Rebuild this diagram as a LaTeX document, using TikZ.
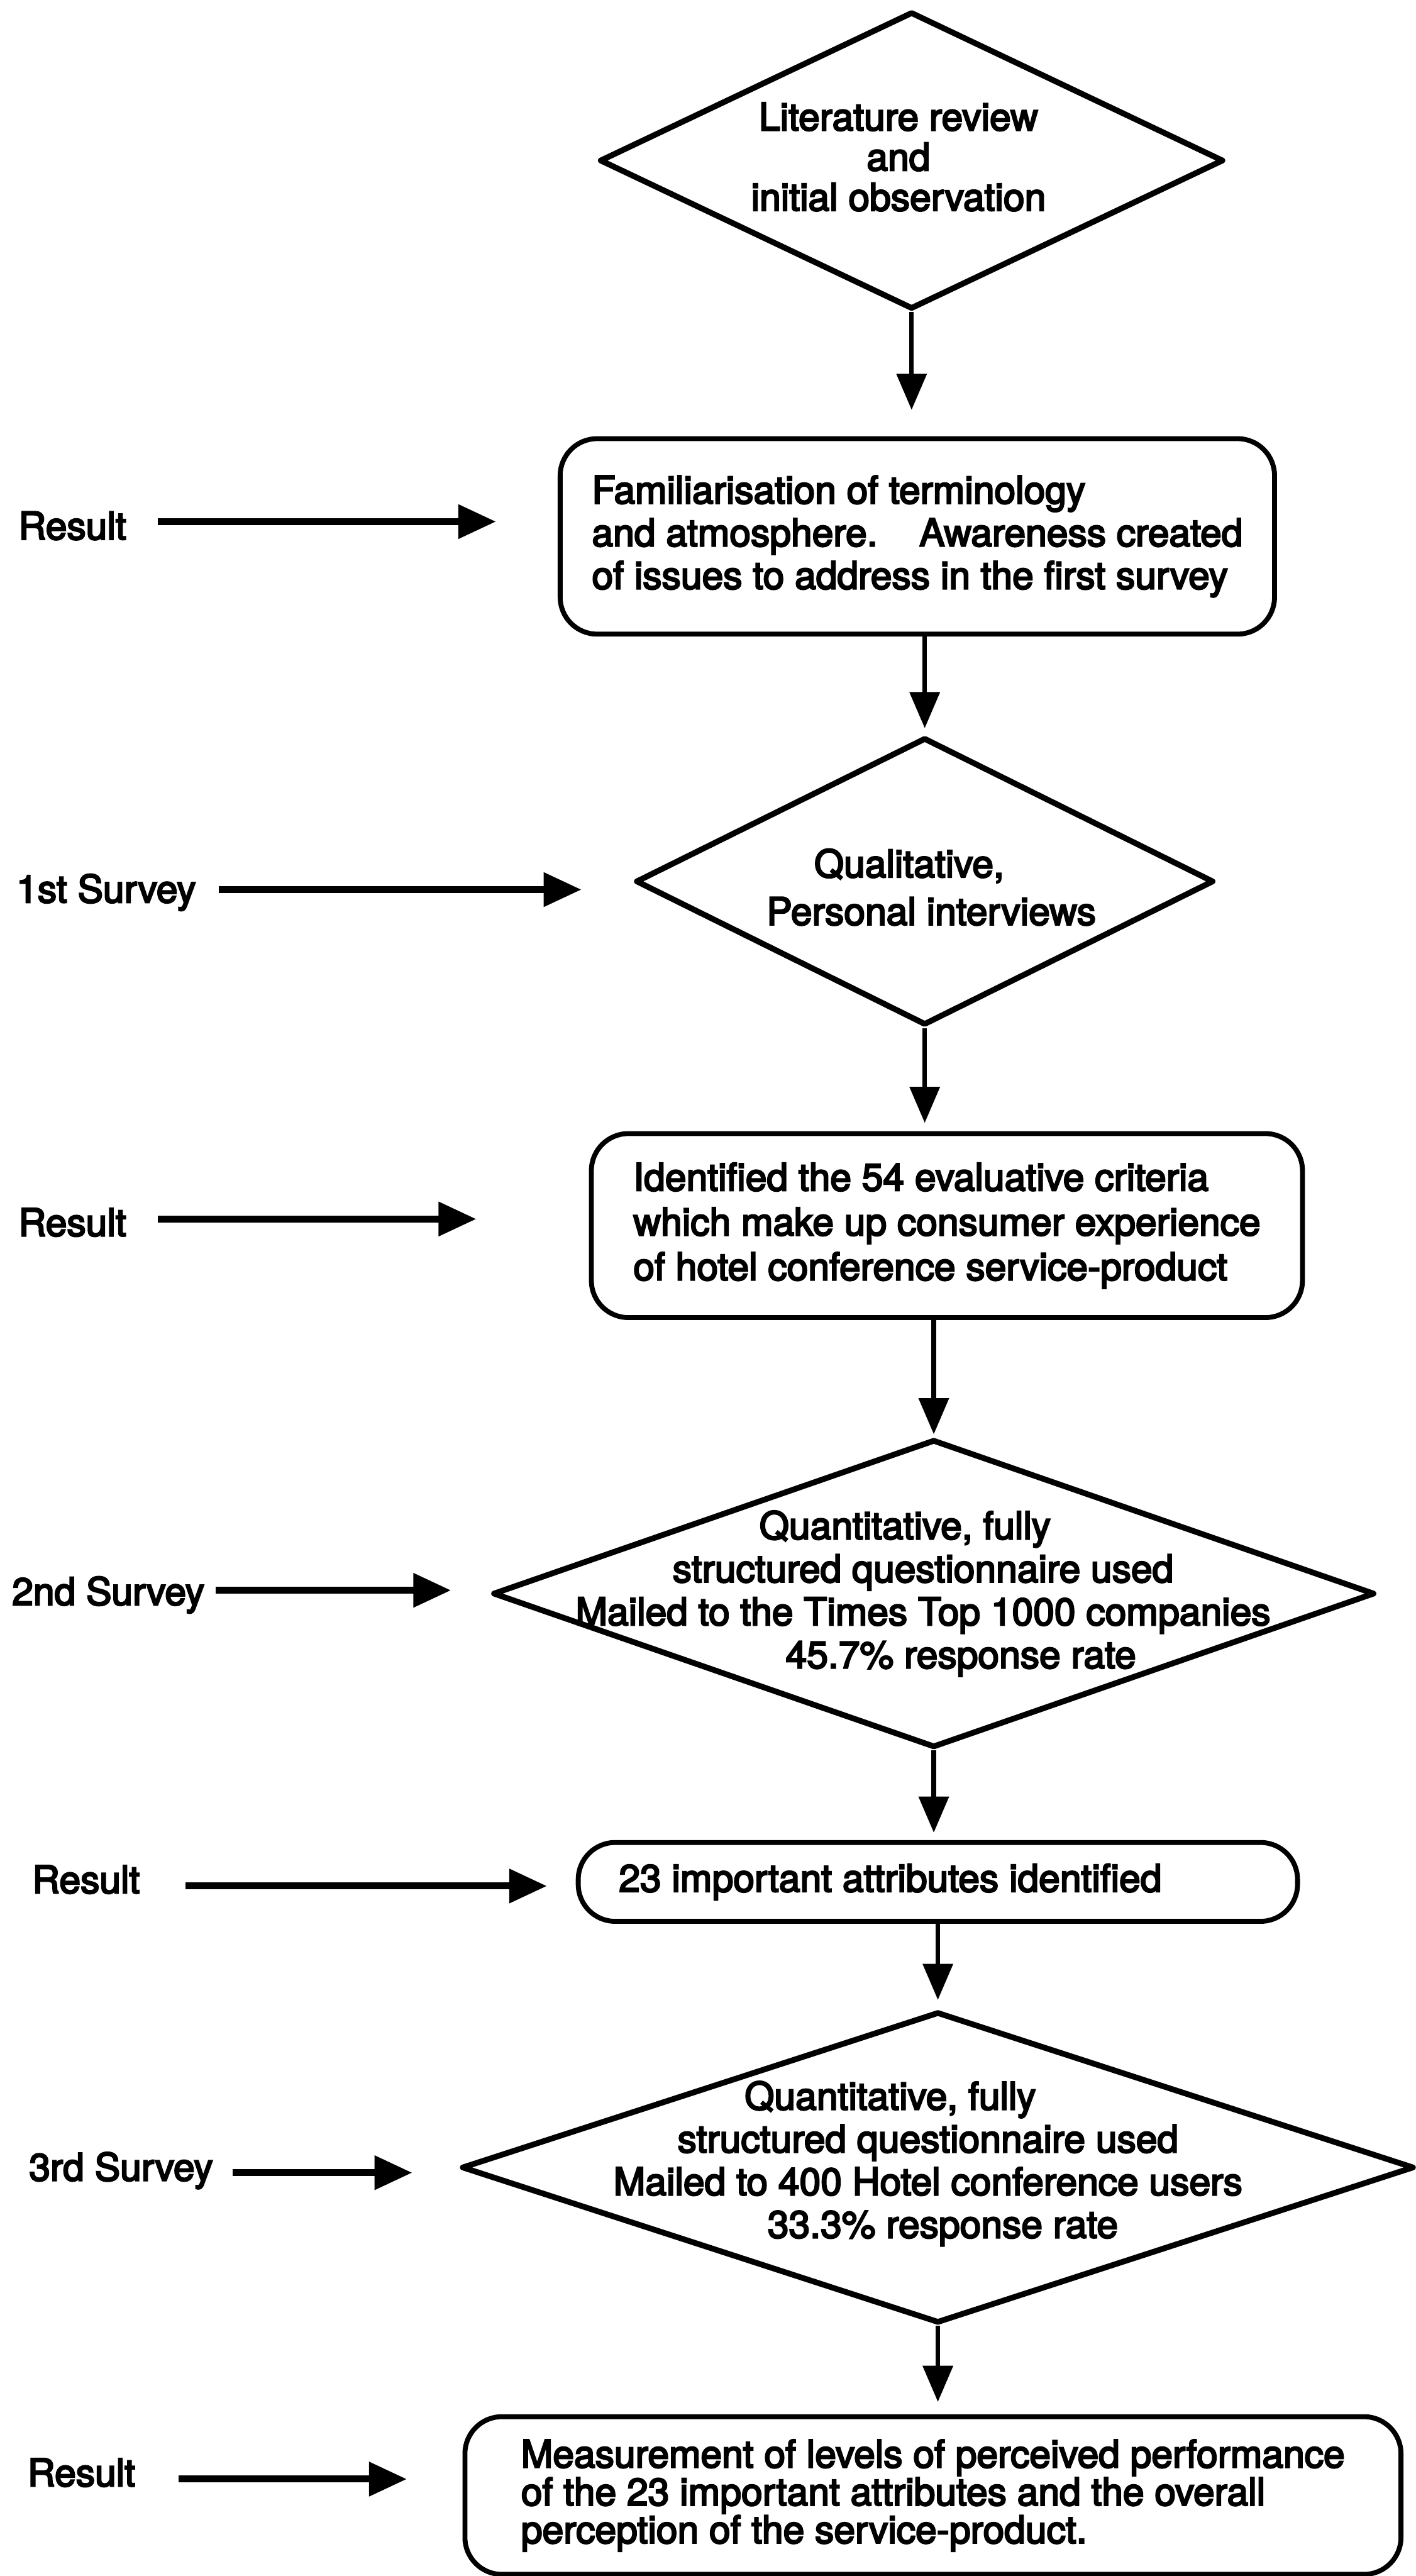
\documentclass[tikz,border=0pt]{standalone}
\usepackage{fontspec}
\setmainfont{TeX Gyre Heros}[FakeBold=4]
\usetikzlibrary{shapes.geometric,arrows.meta}

\begin{document}
\begin{tikzpicture}[x=0.02cm, y=-0.02cm,
  every node/.style={font=\fontsize{13.2pt}{14.8pt}\selectfont},
  dia/.style={draw, shape=diamond, line width=0.07cm, inner sep=0pt, line join=round},
  rbox/.style={draw, rounded corners=0.45cm, line width=0.06cm, inner sep=0pt, align=left},
  txt/.style={inner sep=0pt, align=center},
  lab/.style={inner sep=0pt, anchor=west, text height=9.5pt, text depth=0pt},
  flow/.style={line width=0.055cm, -{Triangle[length=0.44cm, width=0.36cm]}},
  res/.style={line width=0.085cm, -{Triangle[length=0.46cm, width=0.4cm]}}
]
\useasboundingbox (0,0) rectangle (862,1568);

% process column: decisions and results
\node[dia, minimum width=7.6cm, minimum height=3.62cm] (d1) at (555,97.7) {};
\node[txt, font=\fontsize{13.2pt}{13.9pt}\selectfont] (d1t) at (547,95.5)
  {Literature review\\and\\initial observation};

\node[rbox, minimum width=8.7cm, minimum height=2.38cm] (b1) at (558.5,326.5)
  {Familiarisation of terminology\\and atmosphere.\hspace{1.1em}Awareness created\\of issues to address in the first survey};

\node[dia, minimum width=7.04cm, minimum height=3.5cm] (d2) at (563,536.5) {};
\node[txt, font=\fontsize{13.2pt}{16.5pt}\selectfont] (d2t) at (567,540)
  {Qualitative,\hspace*{0.54cm}\\Personal interviews};

\node[rbox, minimum width=8.66cm, minimum height=2.24cm, font=\fontsize{13.2pt}{15.5pt}\selectfont] (b2) at (576.5,746)
  {Identified the 54 evaluative criteria\\which make up consumer experience\\of hotel conference service-product};

\node[dia, minimum width=10.74cm, minimum height=3.75cm] (d3) at (568.5,970) {};
\node[txt, font=\fontsize{13.2pt}{14.9pt}\selectfont] (d3t) at (562,970)
  {Quantitative, fully\hspace*{0.44cm}\\structured questionnaire used\\Mailed to the Times Top 1000 companies\\\hspace*{0.92cm}45.7\% response rate};

\node[rbox, minimum width=8.76cm, minimum height=0.96cm] (b3) at (571,1145.5)
  {23 important attributes identified\hspace*{1.16cm}};

\node[dia, minimum width=11.6cm, minimum height=3.79cm] (d4) at (571,1319.3) {};
\node[txt] (d4t) at (565,1317)
  {Quantitative, fully\hspace*{0.92cm}\\structured questionnaire used\\Mailed to 400 Hotel conference users\\\hspace*{0.36cm}33.3\% response rate};

\node[rbox, minimum width=11.4cm, minimum height=1.92cm, font=\fontsize{13.2pt}{13.1pt}\selectfont] (b4) at (568,1519)
  {Measurement of levels of perceived performance\\of the 23 important attributes and the overall\\perception of the service-product.};

% downward flow
\draw[flow, shorten >=0.32cm] (d1.south) -- (d1.south |- b1.north);
\draw[flow, shorten >=0.08cm] (b1.south -| d2.north) -- (d2.north);
\draw[flow, shorten >=0.10cm] (d2.south) -- (d2.south |- b2.north);
\draw[flow, shorten >=0.03cm] (b2.south -| d3.north) -- (d3.north);
\draw[flow, shorten >=0.09cm] (d3.south) -- (d3.south |- b3.north);
\draw[flow, shorten >=0.11cm] (b3.south -| d4.north) -- (d4.north);
\draw[flow, shorten >=0.15cm] (d4.south) -- (d4.south |- b4.north);

% stage labels on the left
\node[lab] (l1) at (11,320) {Result};
\node[lab] (l2) at (9.7,541) {1st Survey};
\node[lab] (l3) at (11,744) {Result};
\node[lab] (l4) at (7,968.6) {2nd Survey};
\node[lab] (l5) at (19.3,1144) {Result};
\node[lab] (l6) at (17.4,1319) {3rd Survey};
\node[lab] (l7) at (16.5,1505) {Result};

\coordinate (e1) at (302,317.5);
\coordinate (e2) at (354,541.5);
\coordinate (e3) at (290,742);
\coordinate (e4) at (274.6,968);
\coordinate (e5) at (333,1148);
\coordinate (e6) at (251,1322.5);
\coordinate (e7) at (247.7,1509);

\draw[res, shorten <=0.38cm] (l1.east |- e1) -- (e1);
\draw[res, shorten <=0.27cm] (l2.east |- e2) -- (e2);
\draw[res, shorten <=0.38cm] (l3.east |- e3) -- (e3);
\draw[res, shorten <=0.13cm] (l4.east |- e4) -- (e4);
\draw[res, shorten <=0.55cm] (l5.east |- e5) -- (e5);
\draw[res, shorten <=0.23cm] (l6.east |- e6) -- (e6);
\draw[res, shorten <=0.52cm] (l7.east |- e7) -- (e7);
\end{tikzpicture}
\end{document}
